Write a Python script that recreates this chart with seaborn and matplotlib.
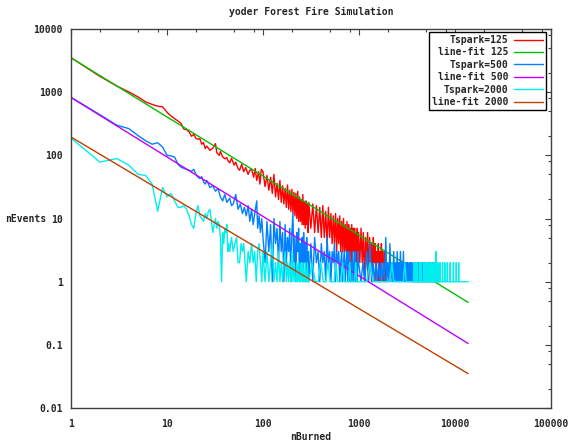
import numpy as np
import pandas as pd
import matplotlib
matplotlib.use("Agg")
import matplotlib.pyplot as plt
import seaborn as sns
from matplotlib.ticker import FixedLocator, FuncFormatter, NullFormatter

# === DATA ===
red_x = [
    1, 2, 3, 4, 5, 6, 7, 8, 9, 10,
    11, 12, 13, 14, 15, 16, 17, 18, 19, 20,
    21, 22, 23, 24, 25, 26, 28, 30, 32, 33,
    35, 36, 38, 40, 42, 43, 45, 47, 50, 52,
    55, 57, 60, 63, 66, 70, 73, 76, 80, 83,
    86, 90, 93, 96, 100, 105, 110, 115, 120, 125,
    130, 135, 140, 145, 150, 155, 160, 165, 170, 175,
    180, 185, 190, 195, 200, 205, 210, 215, 220, 225,
    230, 235, 240, 245, 250, 255, 260, 265, 270, 275,
    280, 285, 290, 295, 300, 315, 330, 345, 360, 375,
    390, 405, 420, 435, 450, 465, 480, 495, 510, 525,
    540, 555, 570, 585, 600, 615, 630, 645, 660, 675,
    690, 705, 720, 735, 750, 765, 780, 795, 810, 825,
    840, 855, 870, 885, 900, 915, 930, 945, 960, 975,
    990, 1020, 1050, 1080, 1110, 1140, 1170, 1200, 1230, 1260,
    1290, 1320, 1350, 1380, 1410, 1440, 1470, 1500, 1530, 1560,
    1590, 1620, 1650, 1680, 1710, 1740, 1770, 1800, 1830, 1860,
    1890]
red_y = [
    3520, 1780, 1250, 1010, 840, 700, 640, 600, 585, 480,
    420, 380, 350, 320, 260, 255, 235, 200, 215, 185,
    180, 184, 150, 160, 128, 140, 120, 130, 153, 110,
    100, 115, 95, 88, 92, 83, 76, 90, 70, 78,
    62, 58, 72, 55, 64, 50, 58, 60, 45, 62,
    40, 55, 35, 60, 55, 32, 48, 28, 45, 25,
    50, 22, 36, 20, 40, 18, 33, 17, 30, 15,
    34, 14, 28, 13, 29, 12, 26, 11, 25, 10,
    27, 9, 22, 9, 20, 8, 24, 8, 18, 7,
    19, 8, 17, 6, 18, 7, 17, 6, 16, 6,
    15, 5, 16, 5, 13, 4, 15, 5, 12, 4,
    11, 4, 12, 3, 10, 4, 11, 3, 9, 3,
    10, 3, 8, 3, 9, 2, 8, 3, 7, 2,
    8, 2, 7, 3, 7, 2, 6, 2, 7, 2,
    6, 2, 7, 2, 6, 1, 5, 2, 6, 1,
    5, 2, 4, 1, 5, 2, 4, 1, 3, 2,
    4, 1, 3, 1, 4, 2, 3, 1, 2, 3,
    1]

blue_x = [
    1, 2, 3, 4, 5, 6, 7, 8, 9, 10,
    11, 12, 13, 14, 15, 16, 17, 18, 19, 20,
    21, 22, 23, 24, 25, 26, 28, 30, 32, 34,
    36, 38, 40, 42, 45, 47, 49, 52, 55, 58,
    61, 64, 67, 70, 73, 76, 79, 82, 86, 88,
    91, 94, 97, 100, 105, 110, 115, 120, 125, 130,
    135, 140, 145, 150, 155, 160, 165, 170, 175, 180,
    185, 190, 195, 200, 205, 210, 215, 220, 225, 230,
    235, 240, 245, 250, 255, 260, 265, 270, 275, 280,
    285, 290, 295, 300, 315, 330, 345, 360, 375, 390,
    405, 420, 435, 450, 465, 480, 495, 510, 525, 540,
    555, 570, 585, 600, 615, 630, 645, 660, 675, 690,
    705, 720, 735, 750, 765, 780, 795, 810, 825, 840,
    855, 870, 885, 900, 915, 930, 945, 960, 975, 990,
    1050, 1100, 1150, 1200, 1250, 1300, 1350, 1400, 1450, 1500,
    1550, 1600, 1650, 1700, 1750, 1800, 1850, 1900, 1950, 2000,
    2050, 2100, 2150, 2200, 2250, 2300, 2350, 2400, 2450, 2500,
    2550, 2600, 2650, 2700, 2750, 2800, 2850, 2900, 2950, 3000,
    3050, 3100, 3150, 3200, 3250, 3300, 3350, 3400, 3450, 3500,
    3550, 3600, 3800, 3820, 3840, 4150, 4170, 4190, 4500, 4520,
    4540, 4900, 4920, 4940, 5300, 5320, 5340, 5800, 5820, 5840,
    6300, 6320, 6340, 6900]
blue_y = [
    830, 440, 300, 265, 205, 170, 150, 158, 135, 100,
    98, 94, 72, 65, 62, 60, 58, 56, 60, 50,
    45, 43, 46, 38, 35, 40, 31, 33, 27, 30,
    22, 19, 24, 18, 21, 16, 17, 24, 14, 17,
    12, 15, 11, 16, 9, 14, 8, 12, 19, 7,
    11, 6, 10, 5, 2, 9, 3, 8, 1, 10,
    4, 7, 2, 9, 3, 6, 1, 8, 2, 5,
    3, 7, 1, 6, 12, 2, 5, 1, 6, 3,
    7, 1, 4, 2, 5, 1, 6, 2, 4, 1,
    5, 2, 3, 1, 4, 1, 5, 2, 3, 1,
    4, 2, 3, 1, 5, 2, 3, 1, 3, 2,
    4, 1, 3, 2, 3, 1, 2, 3, 1, 2,
    3, 1, 2, 3, 1, 2, 3, 1, 2, 1,
    3, 2, 1, 2, 3, 1, 2, 1, 3, 2,
    1, 2, 1, 3, 1, 4, 1, 2, 1, 2,
    1, 2, 1, 2, 1, 2, 1, 5, 1, 2,
    1, 4, 1, 2, 1, 3, 1, 2, 1, 3,
    1, 2, 1, 3, 1, 2, 1, 3, 1, 2,
    1, 2, 1, 2, 1, 1, 2, 1, 2, 1,
    2, 1, 1, 2, 1, 1, 2, 1, 1, 2,
    1, 1, 2, 1, 1, 2, 1, 1, 2, 1,
    1, 2, 1, 1]

cyan_x = [
    1, 2, 3, 4, 5, 6, 7, 8, 9, 10,
    11, 12, 13, 14, 15, 16, 17, 18, 19, 20,
    21, 22, 23, 24, 25, 26, 27, 28, 29, 30,
    31, 32, 33, 34, 35, 36, 37, 38, 39, 40,
    41, 42, 43, 44, 45, 47, 49, 51, 53, 55,
    57, 59, 61, 63, 65, 67, 70, 73, 76, 79,
    82, 85, 88, 91, 94, 97, 100, 105, 110, 115,
    120, 125, 130, 135, 140, 145, 150, 155, 160, 165,
    170, 175, 180, 185, 190, 195, 200, 205, 210, 215,
    220, 225, 230, 235, 240, 245, 250, 255, 260, 265,
    270, 275, 280, 285, 290, 295, 300, 325, 350, 375,
    400, 425, 450, 475, 500, 525, 550, 575, 600, 625,
    650, 675, 700, 725, 750, 775, 800, 825, 850, 875,
    900, 925, 950, 975, 1000, 1100, 1200, 1300, 1400, 1500,
    1600, 1700, 1800, 1900, 2000, 2100, 2200, 2300, 2400, 2500,
    2600, 2700, 2800, 2900, 3000, 3100, 3200, 3300, 3400, 3500,
    3600, 3700, 3720, 3740, 3900, 3920, 3940, 4050, 4070, 4090,
    4300, 4320, 4340, 4450, 4470, 4490, 4700, 4720, 4740, 4850,
    4870, 4890, 5100, 5120, 5140, 5350, 5370, 5390, 5500, 5520,
    5540, 5700, 5720, 5740, 5950, 5970, 5990, 6150, 6170, 6190,
    6350, 6370, 6390, 6600, 6620, 6640, 6950, 6970, 6990, 7400,
    7420, 7440, 7800, 7820, 7840, 8300, 8320, 8340, 8900, 8920,
    8940, 9600, 9620, 9640, 10300, 10320, 10340, 10900, 10920, 10940,
    12000, 13700]
cyan_y = [
    188, 78, 89, 70, 50, 48, 35, 13, 31, 22,
    25, 19, 15, 15, 16, 14, 11, 8, 7, 12,
    16, 11, 10, 9, 12, 10, 13, 14, 9, 6,
    8, 10, 7, 9, 8, 5, 1, 6, 4, 7,
    6, 8, 3, 4, 3, 5, 3, 4, 5, 2,
    2, 4, 3, 4, 2, 1, 3, 2, 4, 2,
    3, 1, 3, 4, 2, 1, 3, 1, 3, 1,
    2, 4, 1, 2, 1, 3, 1, 2, 1, 2,
    3, 1, 2, 1, 2, 1, 3, 1, 2, 1,
    1, 2, 1, 2, 1, 1, 2, 1, 2, 1,
    1, 2, 1, 1, 2, 1, 1, 2, 1, 1,
    2, 1, 1, 2, 1, 1, 1, 2, 1, 1,
    1, 2, 1, 1, 1, 1, 2, 1, 1, 1,
    1, 2, 1, 1, 1, 1, 1, 2, 1, 1,
    1, 1, 1, 1, 1, 1, 2, 1, 1, 1,
    1, 1, 1, 1, 2, 1, 1, 1, 1, 1,
    1, 1, 2, 1, 1, 2, 1, 1, 2, 1,
    1, 2, 1, 1, 2, 1, 1, 2, 1, 1,
    2, 1, 1, 2, 1, 1, 2, 1, 1, 2,
    1, 1, 2, 1, 1, 2, 1, 1, 2, 1,
    1, 3, 1, 1, 2, 1, 1, 2, 1, 1,
    2, 1, 1, 2, 1, 1, 2, 1, 1, 2,
    1, 1, 2, 1, 1, 2, 1, 1, 2, 1,
    1, 1]

# line fits: endpoints of the straight log-log fits
fit_x = [1, 13700]
fit125_y = [3500, 0.47]
fit500_y = [824, 0.105]
fit2000_y = [195, 0.035]

SERIES = [
    ("Tspark=125", red_x, red_y, "#ff0000"),
    ("line-fit 125", fit_x, fit125_y, "#00c000"),
    ("Tspark=500", blue_x, blue_y, "#0080ff"),
    ("line-fit 500", fit_x, fit500_y, "#c000ff"),
    ("Tspark=2000", cyan_x, cyan_y, "#00eeee"),
    ("line-fit 2000", fit_x, fit2000_y, "#c04000"),
]

X_MAJOR = [1, 10, 100, 1000, 10000, 100000]
Y_MAJOR = [0.01, 0.1, 1, 10, 100, 1000, 10000]

# === STYLE ===
sns.set_theme(style="white")
plt.rcParams['font.family'] = ['DejaVu Sans Mono']
plt.rcParams['font.weight'] = 'bold'
FS = 7
FRAME = "#404040"

fig = plt.figure(figsize=(5.75, 4.47), dpi=100)
ax = fig.add_axes([71 / 575, 39 / 447, 480 / 575, 379 / 447])

for label, xs, ys, color in SERIES:
    df = pd.DataFrame({"nBurned": xs, "nEvents": ys})
    sns.lineplot(data=df, x="nBurned", y="nEvents", color=color, linewidth=1,
                 label=label, ax=ax, estimator=None, sort=False)

ax.set_xscale("log")
ax.set_yscale("log")
ax.set_xlim(X_MAJOR[0], X_MAJOR[-1])
ax.set_ylim(Y_MAJOR[0], Y_MAJOR[-1])

fmt = FuncFormatter(lambda v, p: f"{v:g}")
for axis, major in ((ax.xaxis, X_MAJOR), (ax.yaxis, Y_MAJOR)):
    minor = [m * d for d in major[:-1] for m in (2, 5, 8)]
    axis.set_major_locator(FixedLocator(major))
    axis.set_minor_locator(FixedLocator(minor))
    axis.set_major_formatter(fmt)
    axis.set_minor_formatter(NullFormatter())

ax.tick_params(which="both", direction="in", top=True, right=True,
               color=FRAME, width=0.8, labelsize=FS)
ax.tick_params(which="major", length=4)
ax.tick_params(which="minor", length=2)
ax.tick_params(axis="y", pad=6)
ax.tick_params(axis="x", pad=8)
for s in ax.spines.values():
    s.set_color(FRAME)
    s.set_linewidth(1)

ax.set_xlabel("nBurned", fontsize=FS, fontweight="bold", va="center")
ax.set_ylabel("nEvents", fontsize=FS, fontweight="bold", rotation=0, va="center", ha="center")
ax.xaxis.set_label_coords(0.5, -0.077)
ax.yaxis.set_label_coords(-0.095, 0.5)
ax.set_title("yoder Forest Fire Simulation", fontsize=FS, fontweight="bold", pad=10)

handles, labels = ax.get_legend_handles_labels()
leg = ax.legend(handles, labels, loc="upper right", bbox_to_anchor=(546 / 575, 1 - 32 / 447),
                bbox_transform=fig.transFigure, borderaxespad=0, markerfirst=False,
                frameon=True, fancybox=False, framealpha=1, edgecolor="black",
                handlelength=3.0, handletextpad=0.6, labelspacing=0.25, borderpad=0.3,
                prop={"size": FS, "weight": "bold"})
leg.get_frame().set_linewidth(1.0)

plt.savefig("out.png", dpi=100)
